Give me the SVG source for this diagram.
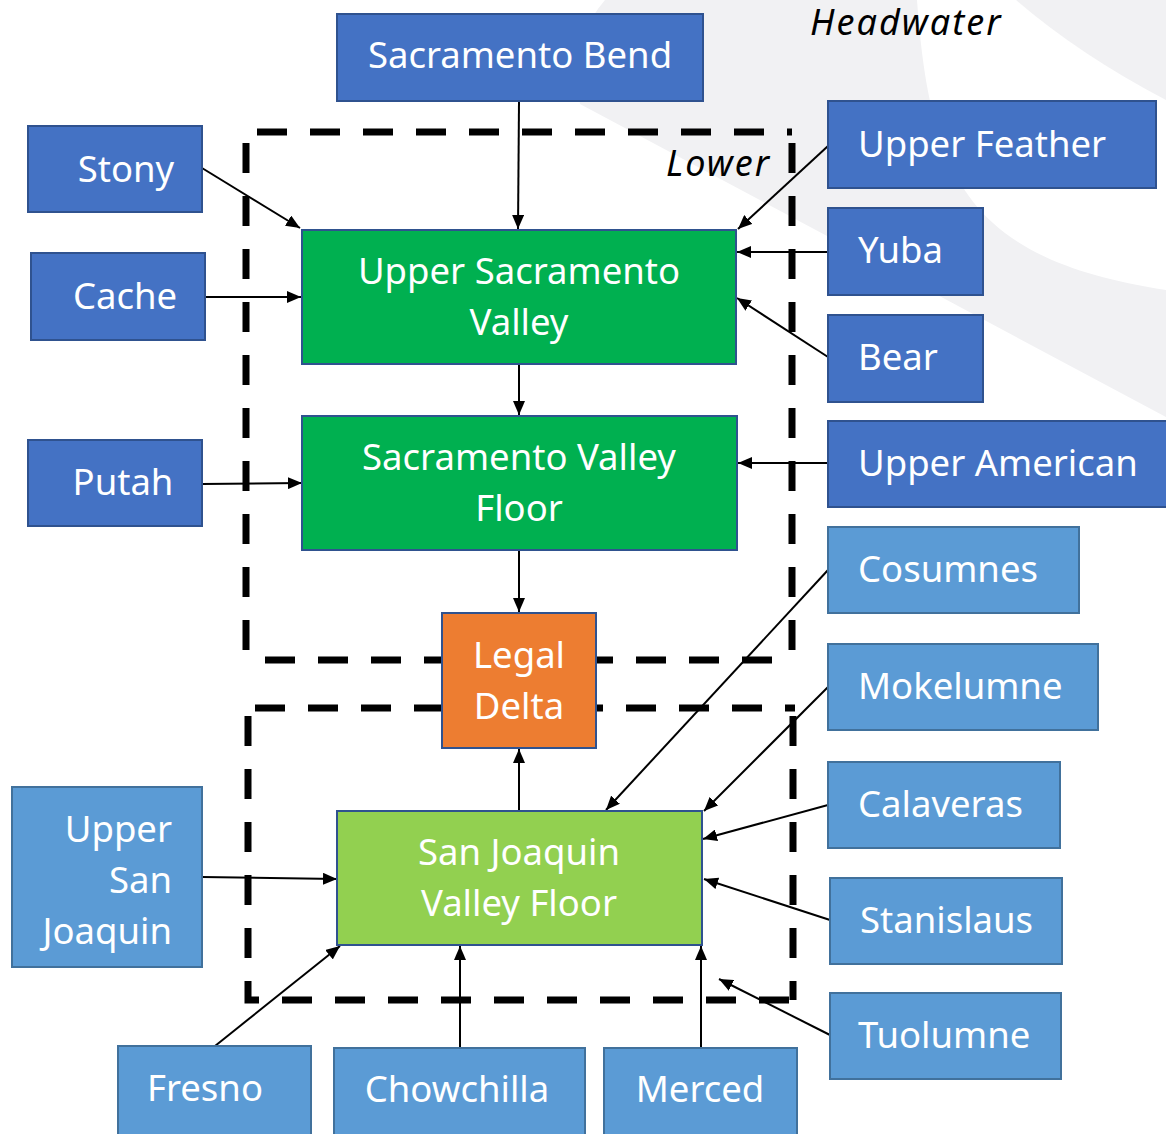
<svg xmlns="http://www.w3.org/2000/svg" width="1166" height="1134" viewBox="0 0 1166 1134">
<defs>
<marker id="arr" viewBox="0 0 14 12" refX="14" refY="6" markerWidth="14" markerHeight="12" markerUnits="userSpaceOnUse" orient="auto">
<path d="M0,0 L14,6 L0,12 z" fill="#000"/>
</marker>
<style>
.dk{fill:#4472C4;stroke:#2F528F;stroke-width:2}
.lt{fill:#5B9BD5;stroke:#41719C;stroke-width:2}
.gr{fill:#00B050;stroke:#2F528F;stroke-width:2}
.lg{fill:#92D050;stroke:#2F528F;stroke-width:2}
.or{fill:#ED7D31;stroke:#2F528F;stroke-width:2}
.t{font-family:"Noto Sans","Open Sans","DejaVu Sans",sans-serif;font-size:36.5px;fill:#fff}
.c{text-anchor:middle}
.r{text-anchor:end}
.it{font-family:"Noto Sans","Open Sans","DejaVu Sans",sans-serif;font-size:36px;font-style:italic;letter-spacing:2px;fill:#000}
.dash{fill:none;stroke:#000;stroke-width:7;stroke-dasharray:30 23}
.cn line{stroke:#000;stroke-width:2;marker-end:url(#arr)}
</style>
</defs>
<rect width="1166" height="1134" fill="#fff"/>
<g id="background">
<path d="M1016,0 L1166,0 L1166,100 Q1080,55 1016,0 Z" fill="#f1f1f3"/>
<path d="M605,0 L917,0 C930,180 970,260 1166,290 L1166,417 L580,104 Q570,40 605,0 Z" fill="#f1f1f3"/>
</g>
<g id="regions">
<path class="dash" d="M257,132 H792 M792,143 V660 M246,143 V660 M265,660 H786"/>
<path class="dash" d="M255,708 H795 M793,716 V1000 M248,716 V1000 H793"/>
<text class="it" x="666" y="176">Lower</text>
<text class="it" x="810" y="35">Headwater</text>
</g>
<g id="connectors" class="cn">
<line x1="519" y1="101" x2="518" y2="229"/>
<line x1="202" y1="168" x2="300" y2="228"/>
<line x1="205" y1="297" x2="301" y2="297"/>
<line x1="828" y1="146" x2="738" y2="229"/>
<line x1="828" y1="252" x2="737" y2="252"/>
<line x1="828" y1="357" x2="737" y2="298"/>
<line x1="519" y1="364" x2="519" y2="415"/>
<line x1="202" y1="484" x2="302" y2="483"/>
<line x1="828" y1="463" x2="738" y2="463"/>
<line x1="519" y1="550" x2="519" y2="612"/>
<line x1="519" y1="811" x2="519" y2="749"/>
<line x1="828" y1="570" x2="606" y2="810"/>
<line x1="828" y1="687" x2="704" y2="811"/>
<line x1="828" y1="805" x2="703" y2="839"/>
<line x1="830" y1="920" x2="704" y2="879"/>
<line x1="830" y1="1035" x2="719" y2="979"/>
<line x1="202" y1="877" x2="337" y2="879"/>
<line x1="215" y1="1046" x2="340" y2="946"/>
<line x1="460" y1="1048" x2="460" y2="946"/>
<line x1="701" y1="1048" x2="701" y2="946"/>
</g>
<g id="sacramento-bend"><rect class="dk" x="337" y="14" width="366" height="87"/><text class="t c" x="520" y="68">Sacramento Bend</text></g>
<g id="stony"><rect class="dk" x="28" y="126" width="174" height="86"/><text class="t c" x="126" y="182">Stony</text></g>
<g id="cache"><rect class="dk" x="31" y="253" width="174" height="87"/><text class="t c" x="125" y="309">Cache</text></g>
<g id="putah"><rect class="dk" x="28" y="440" width="174" height="86"/><text class="t c" x="123" y="495">Putah</text></g>
<g id="upper-feather"><rect class="dk" x="828" y="101" width="328" height="87"/><text class="t" x="858" y="157">Upper Feather</text></g>
<g id="yuba"><rect class="dk" x="828" y="208" width="155" height="87"/><text class="t" x="858" y="263">Yuba</text></g>
<g id="bear"><rect class="dk" x="828" y="315" width="155" height="87"/><text class="t" x="858" y="370">Bear</text></g>
<g id="upper-american"><rect class="dk" x="828" y="421" width="340" height="86"/><text class="t" x="858" y="476">Upper American</text></g>
<g id="upper-sacramento-valley"><rect class="gr" x="302" y="230" width="434" height="134"/><text class="t c" x="519" y="284">Upper Sacramento</text><text class="t c" x="519" y="335">Valley</text></g>
<g id="sacramento-valley-floor"><rect class="gr" x="302" y="416" width="435" height="134"/><text class="t c" x="519" y="470">Sacramento Valley</text><text class="t c" x="519" y="521">Floor</text></g>
<g id="legal-delta"><rect class="or" x="442" y="613" width="154" height="135"/><text class="t c" x="519" y="668">Legal</text><text class="t c" x="519" y="719">Delta</text></g>
<g id="san-joaquin-valley-floor"><rect class="lg" x="337" y="811" width="365" height="134"/><text class="t c" x="519" y="865">San Joaquin</text><text class="t c" x="519" y="916">Valley Floor</text></g>
<g id="cosumnes"><rect class="lt" x="828" y="527" width="251" height="86"/><text class="t" x="858" y="582">Cosumnes</text></g>
<g id="mokelumne"><rect class="lt" x="828" y="644" width="270" height="86"/><text class="t" x="858" y="699">Mokelumne</text></g>
<g id="calaveras"><rect class="lt" x="828" y="762" width="232" height="86"/><text class="t" x="858" y="817">Calaveras</text></g>
<g id="stanislaus"><rect class="lt" x="830" y="878" width="232" height="86"/><text class="t" x="860" y="933">Stanislaus</text></g>
<g id="tuolumne"><rect class="lt" x="830" y="993" width="231" height="86"/><text class="t" x="858" y="1048">Tuolumne</text></g>
<g id="upper-san-joaquin"><rect class="lt" x="12" y="787" width="190" height="180"/><text class="t r" x="172" y="842">Upper</text><text class="t r" x="172" y="893">San</text><text class="t r" x="172" y="944">Joaquin</text></g>
<g id="fresno"><rect class="lt" x="118" y="1046" width="193" height="90"/><text class="t c" x="205" y="1101">Fresno</text></g>
<g id="chowchilla"><rect class="lt" x="334" y="1048" width="251" height="88"/><text class="t c" x="457" y="1102">Chowchilla</text></g>
<g id="merced"><rect class="lt" x="604" y="1048" width="193" height="88"/><text class="t c" x="700" y="1102">Merced</text></g>
</svg>
